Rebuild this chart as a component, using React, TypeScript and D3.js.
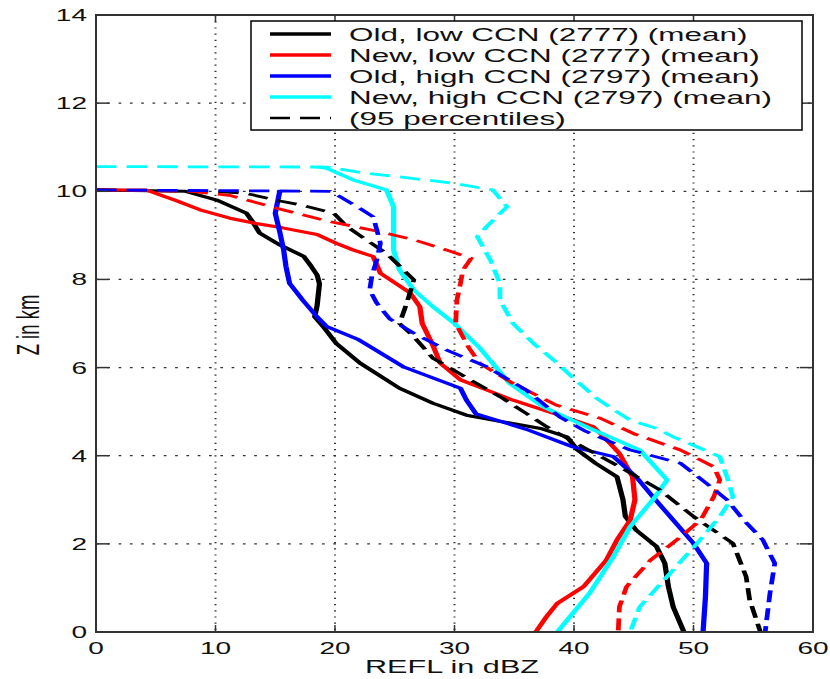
import React from "react";
import * as d3 from "d3";

// ---------- data: [REFL dBZ, Z km] ----------
const oldLowMean: [number, number][] = [
  [0, 10.03], [7.5, 10.0], [10.1, 9.8], [12.6, 9.5], [13.2, 9.27], [13.7, 9.05], [15.4, 8.78],
  [17.4, 8.52], [18.0, 8.3], [18.5, 8.1], [18.7, 7.9], [18.5, 7.4], [18.3, 7.15], [19.1, 6.9],
  [20.1, 6.55], [22.1, 6.1], [25.4, 5.53], [28.2, 5.19], [31.0, 4.92], [33.2, 4.81], [37.2, 4.62],
  [39.4, 4.43], [40.3, 4.13], [41.8, 3.83], [43.6, 3.52], [44.1, 3.0], [44.3, 2.62], [45.2, 2.31],
  [46.9, 1.94], [47.6, 1.56], [47.9, 1.03], [48.3, 0.57], [49.2, 0.0],
];
const newLowMean: [number, number][] = [
  [0, 10.03], [4.2, 10.03], [6.6, 9.8], [8.7, 9.58], [11.2, 9.39], [13.4, 9.27], [15.6, 9.17],
  [18.5, 9.02], [20.1, 8.82], [21.5, 8.67], [23.2, 8.52], [23.8, 8.14], [26.3, 7.69], [27.1, 7.38],
  [27.3, 7.0], [28.2, 6.5], [28.8, 6.1], [30.5, 5.72], [32.7, 5.49], [34.9, 5.26], [38.3, 4.96],
  [41.6, 4.66], [42.5, 4.43], [43.8, 4.05], [44.9, 3.52], [45.1, 3.0], [44.7, 2.54], [43.6, 2.09],
  [42.7, 1.63], [40.8, 1.03], [38.6, 0.65], [37.7, 0.35], [36.8, 0.0],
];
const oldHighMean: [number, number][] = [
  [15.4, 10.03], [15.0, 9.5], [15.4, 9.05], [15.7, 8.67], [15.9, 8.29], [16.2, 7.91], [17.3, 7.53],
  [18.5, 7.15], [19.3, 6.93], [22.0, 6.63], [25.7, 6.02], [30.5, 5.53], [31.0, 5.26], [31.8, 4.95],
  [36.0, 4.6], [39.9, 4.2], [43.3, 3.98], [45.2, 3.52], [46.6, 3.07], [48.3, 2.54], [50.0, 2.01],
  [51.1, 1.56], [51.0, 0.8], [50.8, 0.0],
];
const newHighMean: [number, number][] = [
  [18.6, 10.55], [19.3, 10.52], [21.5, 10.26], [24.3, 10.03], [24.9, 9.65], [24.9, 9.05], [24.9, 8.67],
  [25.4, 8.21], [26.6, 7.76], [28.2, 7.38], [30.0, 7.0], [32.1, 6.45], [34.6, 5.64], [37.4, 5.11],
  [41.7, 4.58], [45.5, 4.13], [47.8, 3.45], [46.6, 3.0], [44.7, 2.39], [43.3, 1.71], [41.3, 0.88],
  [38.6, 0.0],
];
const oldLow95: [number, number][] = [
  [0, 10.03], [10.0, 10.0], [12.6, 9.95], [15.4, 9.78], [17.3, 9.68], [19.9, 9.5], [21.0, 9.2],
  [22.6, 8.9], [24.3, 8.59], [26.6, 7.99], [26.0, 7.46], [25.4, 7.0], [26.6, 6.7], [28.2, 6.21],
  [31.6, 5.68], [33.8, 5.34], [36.0, 4.96], [37.7, 4.66], [40.2, 4.28], [43.8, 3.75], [47.2, 3.22],
  [50.0, 2.62], [53.3, 2.01], [54.4, 1.26], [54.7, 0.73], [55.6, 0.0],
];
const newLow95: [number, number][] = [
  [0, 10.03], [8.0, 10.0], [11.3, 9.9], [15.2, 9.61], [19.6, 9.31], [23.8, 9.08], [26.6, 8.9],
  [29.3, 8.67], [31.4, 8.48], [30.7, 8.21], [30.5, 7.91], [30.2, 7.53], [30.1, 7.0], [31.2, 6.45],
  [32.1, 6.1], [34.9, 5.64], [38.5, 5.15], [42.2, 4.85], [45.0, 4.5], [48.9, 4.13], [51.7, 3.75],
  [52.2, 3.45], [51.7, 3.07], [50.6, 2.54], [48.6, 2.09], [46.4, 1.63], [44.4, 1.03], [43.8, 0.57],
  [43.7, 0.0],
];
const oldHigh95: [number, number][] = [
  [0, 10.03], [19.6, 10.0], [20.4, 9.88], [22.1, 9.61], [23.2, 9.42], [23.5, 9.12], [23.8, 8.82],
  [23.5, 8.44], [23.1, 8.1], [22.9, 7.76], [23.5, 7.46], [24.6, 7.1], [26.6, 6.78], [29.3, 6.4],
  [32.7, 6.02], [36.0, 5.49], [38.8, 4.88], [41.0, 4.55], [44.7, 4.13], [48.9, 3.83], [51.1, 3.37],
  [52.8, 3.0], [54.2, 2.54], [55.8, 2.09], [56.8, 1.56], [56.4, 0.88], [56.0, 0.0],
];
const newHigh95: [number, number][] = [
  [0, 10.56], [19.3, 10.55], [22.6, 10.41], [26.6, 10.29], [29.9, 10.18], [33.2, 10.03], [34.4, 9.65],
  [32.7, 9.2], [31.9, 8.97], [33.0, 8.44], [33.8, 7.91], [33.8, 7.53], [34.9, 7.0], [36.6, 6.55],
  [38.3, 6.17], [39.8, 5.8], [41.9, 5.3], [43.8, 4.96], [44.7, 4.81], [46.9, 4.62], [48.3, 4.43],
  [52.2, 3.98], [52.8, 3.52], [53.3, 3.07], [52.2, 2.62], [50.3, 2.01], [47.8, 1.26], [45.5, 0.57],
  [44.7, 0.0],
];

const legendLabels = [
  "Old, low CCN (2777) (mean)",
  "New, low CCN (2777) (mean)",
  "Old, high CCN (2797) (mean)",
  "New, high CCN (2797) (mean)",
  "(95 percentiles)",
];
const seriesColors = ["#000000", "#ff0000", "#0000ff", "#00ffff"];
const xTicks = [0, 10, 20, 30, 40, 50, 60];
const yTicks = [0, 2, 4, 6, 8, 10, 12, 14];
const xLabel = "REFL in dBZ";
const yLabel = "Z in km";

const SX = 1.7; // horizontal stretch of the figure
const L = 96, R = 813, T = 15, B = 632;
const FONT = "'Liberation Sans', Arial, Helvetica, sans-serif";

export default function App() {
  const x = d3.scaleLinear().domain([0, 60]).range([L, R]);
  const xi = d3.scaleLinear().domain([0, 60]).range([L / SX, R / SX]);
  const y = d3.scaleLinear().domain([0, 14]).range([B, T]);
  const line = d3
    .line<[number, number]>()
    .x((d) => xi(d[0]))
    .y((d) => y(d[1]));

  const means = [oldLowMean, newLowMean, oldHighMean, newHighMean];
  const pct = [oldLow95, newLow95, oldHigh95, newHigh95];

  const lgX = 251, lgY = 21, lgW = 551, lgH = 109;
  const rowY = (i: number) => 34 + i * 21;

  return (
    <svg
      width={830}
      height={679}
      style={{ position: "absolute", left: 0, top: 0, background: "#fff" }}
      fontFamily={FONT}
    >
      <rect x={0} y={0} width={830} height={679} fill="#fff" />
      {/* grid */}
      {yTicks.filter((t) => t > 0 && t < 14).map((t) => (
        <line key={"gy" + t} x1={L} x2={R} y1={y(t)} y2={y(t)} stroke="#333" strokeWidth={1.3} strokeDasharray="2.7 8.6" />
      ))}
      {xTicks.filter((t) => t > 0 && t < 60).map((t) => (
        <line key={"gx" + t} x1={x(t)} x2={x(t)} y1={T} y2={B} stroke="#333" strokeWidth={2} strokeDasharray="1.2 5" />
      ))}
      {/* data */}
      <g transform={`scale(${SX},1)`} fill="none" strokeLinejoin="round">
        {means.map((s, i) => (
          <path key={"m" + i} d={line(s) || ""} stroke={seriesColors[i]} strokeWidth={3.1} />
        ))}
        {pct.map((s, i) => (
          <path key={"p" + i} d={line(s) || ""} stroke={seriesColors[i]} strokeWidth={2.8} strokeDasharray="12 6" />
        ))}
      </g>
      {/* ticks */}
      {xTicks.map((t) => (
        <g key={"tx" + t}>
          <line x1={x(t)} x2={x(t)} y1={B} y2={B - 7} stroke="#333" strokeWidth={1.5} />
          <line x1={x(t)} x2={x(t)} y1={T} y2={T + 7} stroke="#333" strokeWidth={1.5} />
          <text
            transform={`translate(${x(t)},654) scale(${SX},1)`}
            textAnchor="middle"
            fontSize={16.5}
            fill="#111"
          >
            {t}
          </text>
        </g>
      ))}
      {yTicks.map((t) => (
        <g key={"ty" + t}>
          <line x1={L} x2={L + 13} y1={y(t)} y2={y(t)} stroke="#333" strokeWidth={1.5} />
          <line x1={R} x2={R - 13} y1={y(t)} y2={y(t)} stroke="#333" strokeWidth={1.5} />
          <text
            transform={`translate(87,${y(t) + 6}) scale(${SX},1)`}
            textAnchor="end"
            fontSize={16.5}
            fill="#111"
          >
            {t}
          </text>
        </g>
      ))}
      {/* axes box */}
      <rect x={L} y={T} width={R - L} height={B - T} fill="none" stroke="#333" strokeWidth={2} />
      {/* axis labels */}
      <text transform={`translate(452,673) scale(${SX},1)`} textAnchor="middle" fontSize={18} fill="#111">
        {xLabel}
      </text>
      <text transform={`translate(39,325) scale(${SX},1) rotate(-90)`} textAnchor="middle" fontSize={18.5} fill="#111">
        {yLabel}
      </text>
      {/* legend */}
      <rect x={lgX} y={lgY} width={lgW} height={lgH} fill="#fff" stroke="#000" strokeWidth={1.5} />
      {legendLabels.map((lab, i) => (
        <g key={"lg" + i}>
          <line
            x1={270}
            x2={331}
            y1={rowY(i)}
            y2={rowY(i)}
            stroke={i < 4 ? seriesColors[i] : "#000"}
            strokeWidth={i < 4 ? 3.3 : 2.7}
            strokeDasharray={i < 4 ? undefined : "20 10"}
          />
          <text
            transform={`translate(349,${rowY(i) + 6.5}) scale(${SX},1)`}
            fontSize={18.5}
            fill="#111"
          >
            {lab}
          </text>
        </g>
      ))}
    </svg>
  );
}
